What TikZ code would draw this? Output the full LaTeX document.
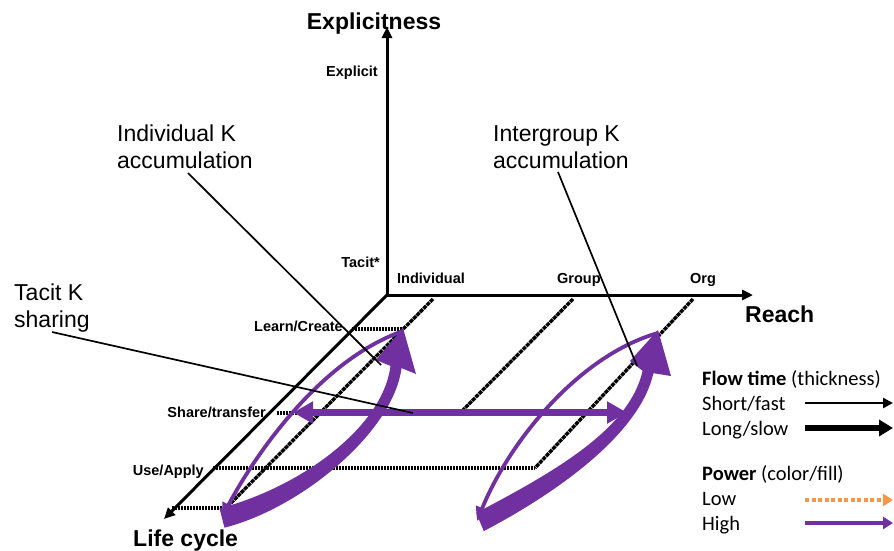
\documentclass[tikz,border=0pt]{standalone}
\usepackage{fontspec}
\setmainfont{Liberation Sans}
\newfontfamily\calib{Carlito}
\usetikzlibrary{arrows.meta}
\definecolor{purp}{HTML}{7030A0}
\definecolor{orng}{HTML}{F79646}
\begin{document}
\begin{tikzpicture}[x=1pt,y=-1pt,
  axisln/.style={line width=3pt,-{Triangle[length=11pt,width=10pt]}},
  dotln/.style={line width=3.4pt,dash pattern=on 2.2pt off 0.8pt},
  dashln/.style={line width=3.4pt,dash pattern=on 4pt off 0.8pt},
  callout/.style={line width=1.7pt},
  biglbl/.style={font=\bfseries\fontsize{23}{27}\selectfont,inner sep=0pt},
  smlbl/.style={font=\bfseries\fontsize{14.5}{17}\selectfont,inner sep=0pt},
  note/.style={font=\fontsize{23}{27.5}\selectfont,inner sep=0pt},
  leg/.style={font=\calib\fontsize{20.5}{24}\selectfont,inner sep=0pt},
  thinflow/.style={purp,line width=3.8pt,-{Triangle[length=14pt,width=13pt]}},
]
\useasboundingbox (0,0) rectangle (894,550);

% ---- key points
\coordinate (O) at (387,295);
\coordinate (up) at (387,27);
\coordinate (rt) at (753,295);
\coordinate (dg) at (164,519);

% ---- dotted grid lines
\coordinate (indT) at (433,299);
\coordinate (indB) at (226,508);
\coordinate (grpT) at (573,299);
\coordinate (grpB) at (463,410);
\coordinate (orgT) at (693,299);
\coordinate (orgB) at (535,468);
\coordinate (lcL) at (352,329);
\coordinate (lcR) at (403,329);
\coordinate (stL) at (277,413);
\coordinate (stR) at (300,413);
\coordinate (uaL) at (213,468);
\coordinate (btL) at (172,508);

\draw[dashln] (indT) -- (indB);
\draw[dashln] (grpT) -- (grpB);
\draw[dashln] (orgT) -- (orgB);
\draw[dotln] (lcL) -- (lcR);
\draw[dotln] (stL) -- (stR);
\draw[dotln] (uaL) -- (orgB);
\draw[dotln] (btL) -- (indB);

% ---- axes
\draw[axisln] (O) -- (up);
\draw[axisln] (O) -- (rt);
\draw[axisln] (O) -- (dg);

% ---- axis labels
\node[biglbl,anchor=base] (lblE) at (374,29) {Explicitness};
\node[biglbl,anchor=base west] (lblR) at (745,322) {Reach};
\node[biglbl,anchor=base west] (lblL) at (133,546) {Life cycle};

\node[smlbl,anchor=base east] (tExp) at (378,76) {Explicit};
\node[smlbl,anchor=base east] (tTac) at (380,267) {Tacit*};
\node[smlbl,anchor=base west] (tInd) at (397,283) {Individual};
\node[smlbl,anchor=base west] (tGrp) at (557,283) {Group};
\node[smlbl,anchor=base west] (tOrg) at (690,283) {Org};
\node[smlbl,anchor=base east] (tLC) at (343,331) {Learn/Create};
\node[smlbl,anchor=base east] (tST) at (266,417) {Share/transfer};
\node[smlbl,anchor=base east] (tUA) at (204,475) {Use/Apply};

% ---- purple flows
% left group
\draw[thinflow] (403,331) .. controls (320,360) and (255,455) .. (222,517);
\fill[purp] (219.5,508.3) .. controls (297.5,488.3) and (382.5,428.9) .. (390.5,365.9)
  -- (376,360) -- (403,328) -- (416,374) -- (401.5,368.1)
  .. controls (393.5,431.1) and (302.5,507.7) .. (224.5,527.7) -- cycle;
% right group
\draw[thinflow] (658,333) .. controls (580,355) and (510,440) .. (477,521);
\fill[purp] (476.2,512.9) .. controls (556.2,470.9) and (629.6,428.8) .. (642.6,370.8)
  -- (630,361) -- (658,330) -- (671,376) -- (653.4,373.2)
  .. controls (640.4,431.2) and (563.8,489.1) .. (483.8,531.1) -- cycle;
% horizontal sharing
\coordinate (shL) at (293,412.5);
\coordinate (shR) at (627,412.5);
\draw[purp,line width=7pt,{Triangle[length=20pt,width=21pt]}-{Triangle[length=20pt,width=21pt]}] (shL) -- (shR);

% ---- callouts
\node[note,anchor=base west] (n1a) at (117,141) {Individual K};
\node[note,anchor=base west] (n1b) at (117,168) {accumulation};
\node[note,anchor=base west] (n2a) at (493,141) {Intergroup K};
\node[note,anchor=base west] (n2b) at (493,168) {accumulation};
\node[note,anchor=base west] (n3a) at (14,300) {Tacit K};
\node[note,anchor=base west] (n3b) at (14,327) {sharing};

\coordinate (c1s) at (188,173);
\coordinate (c1e) at (381,365);
\coordinate (c2s) at (558,172);
\coordinate (c2e) at (637,366);
\coordinate (c3s) at (52,332);
\coordinate (c3e) at (413,413);
\draw[callout] (c1s) -- (c1e);
\draw[callout] (c2s) -- (c2e);
\draw[callout] (c3s) -- (c3e);

% ---- legend
\node[leg,anchor=base west] (lg1) at (702,385) {\textbf{Flow time} (thickness)};
\node[leg,anchor=base west] (lg2) at (702,410) {Short/fast};
\node[leg,anchor=base west] (lg3) at (702,435) {Long/slow};
\node[leg,anchor=base west] (lg4) at (702,480) {\textbf{Power} (color/fill)};
\node[leg,anchor=base west] (lg5) at (702,505) {Low};
\node[leg,anchor=base west] (lg6) at (702,530) {High};

\coordinate (a1s) at (805,403); \coordinate (a1e) at (893,403);
\coordinate (a2s) at (805,428); \coordinate (a2e) at (893,428);
\coordinate (a3s) at (805,500); \coordinate (a3e) at (893,500);
\coordinate (a4s) at (805,523); \coordinate (a4e) at (893,523);
\draw[line width=2.5pt,-{Triangle[length=10pt,width=10pt]}] (a1s) -- (a1e);
\draw[line width=6pt,-{Triangle[length=14pt,width=16pt]}] (a2s) -- (a2e);
\draw[orng,line width=4.5pt,dash pattern=on 4pt off 2.5pt,-{Triangle[length=10pt,width=12pt]}] (a3s) -- (a3e);
\draw[purp,line width=3.5pt,-{Triangle[length=10pt,width=12pt]}] (a4s) -- (a4e);
\end{tikzpicture}
\end{document}
